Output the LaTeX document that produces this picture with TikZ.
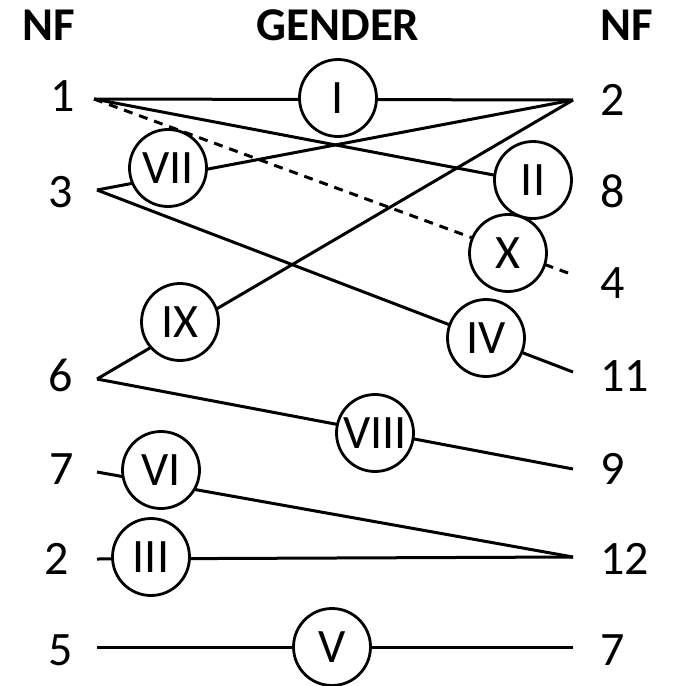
\documentclass[tikz,border=0pt]{standalone}
\usepackage{fontspec}
\setmainfont{Carlito}
\begin{document}
\begin{tikzpicture}[x=1pt,y=-1pt,
  lbl/.style={inner sep=0pt, font=\fontsize{48}{48}\selectfont},
  hdr/.style={inner sep=0pt, font=\fontsize{47}{47}\selectfont\bfseries},
  rn/.style={circle, draw, fill=white, line width=2.8pt, minimum size=77pt, inner sep=0pt, font=\fontsize{48}{48}\selectfont},
  conn/.style={line width=3pt},
  dconn/.style={conn, dash pattern=on 9pt off 7pt}]
\useasboundingbox (0,0) rectangle (684,686);
% headers
\node[hdr] (h1) at (49,25) {NF};
\node[hdr] (h2) at (338,25) {GENDER};
\node[hdr] (h3) at (627,25) {NF};
% left labels
\node[lbl] (L1) at (63,96) {1};
\node[lbl] (L3) at (61,192) {3};
\node[lbl] (L6) at (61,375) {6};
\node[lbl] (L7) at (62,469) {7};
\node[lbl] (L2) at (57,559) {2};
\node[lbl] (L5) at (61,650) {5};
% right labels
\node[lbl, anchor=west] (R2) at (600,100) {2};
\node[lbl, anchor=west] (R8) at (600,191) {8};
\node[lbl, anchor=west] (R4) at (600,283) {4};
\node[lbl, anchor=west] (R11) at (600,376) {11};
\node[lbl, anchor=west] (R9) at (600,469) {9};
\node[lbl, anchor=west] (R12) at (600,559) {12};
\node[lbl, anchor=west] (R7) at (600,650) {7};
% endpoints
\coordinate (l1) at (94,99);
\coordinate (l3) at (97,190);
\coordinate (l6) at (97,379);
\coordinate (l7) at (97,472);
\coordinate (l2) at (97,559);
\coordinate (l5) at (97,647);
\coordinate (r2) at (573,100);
\coordinate (r8) at (562,188);
\coordinate (r4) at (568,273);
\coordinate (r11) at (573,372);
\coordinate (r9) at (573,469);
\coordinate (r12) at (573,557);
\coordinate (r7) at (573,647);
% connectors
\draw[conn] (l1) -- (r2);
\draw[conn] (l1) -- (r8);
\draw[dconn] (l1) -- (r4);
\draw[conn] (l3) -- (r2);
\draw[conn] (l3) -- (r11);
\draw[conn] (l6) -- (r2);
\draw[conn] (l6) -- (r9);
\draw[conn] (l7) -- (r12);
\draw[conn] (l2) -- (r12);
\draw[conn] (l5) -- (r7);
% circles
\node[rn] (cI) at (338,98) {I};
\node[rn] (cII) at (533,180) {II};
\node[rn] (cIII) at (151,557) {III};
\node[rn] (cIV) at (486,338) {IV};
\node[rn] (cV) at (332,647) {V};
\node[rn] (cVI) at (161,470) {VI};
\node[rn] (cVII) at (168,168) {VII};
\node[rn] (cVIII) at (375,433) {VIII};
\node[rn] (cIX) at (180,322) {IX};
\node[rn] (cX) at (508,253) {X};
\end{tikzpicture}
\end{document}
